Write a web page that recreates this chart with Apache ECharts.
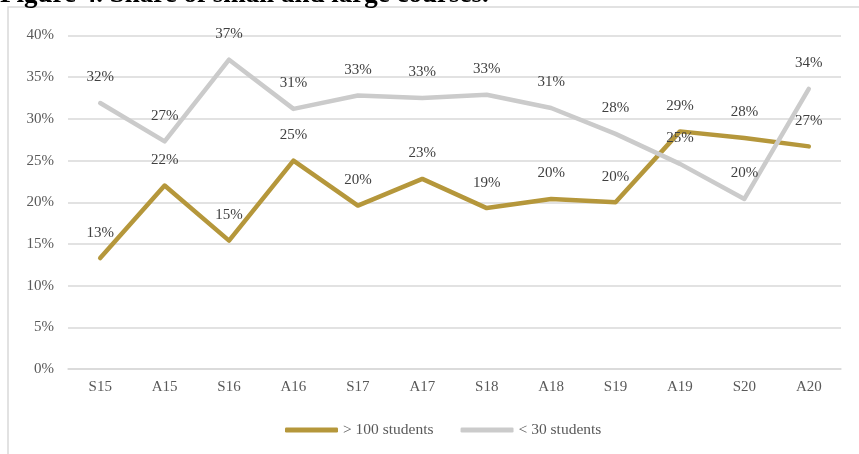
<!DOCTYPE html>
<html>
<head>
<meta charset="utf-8">
<script src="https://cdn.jsdelivr.net/npm/echarts@6/dist/echarts.min.js"></script>
<style>
  html, body { margin: 0; padding: 0; background: #fff; }
  #chart { width: 859px; height: 454px; }
</style>
</head>
<body>
<div id="chart"></div>
<script>
// terms
const terms = ["S15", "A15", "S16", "A16", "S17", "A17", "S18", "A18", "S19", "A19", "S20", "A20"];
// share of courses, percent
const largeCourses = [13.3, 22.0, 15.4, 25.0, 19.6, 22.8, 19.3, 20.4, 20.0, 28.5, 27.7, 26.7];
const smallCourses = [31.9, 27.3, 37.1, 31.2, 32.8, 32.5, 32.9, 31.3, 28.2, 24.6, 20.4, 33.6];
const seriesNames = ["> 100 students", "< 30 students"];

const serif = "Liberation Serif";

function lineSeries(name, data, color) {
  return {
    name: name,
    type: "line",
    data: data,
    showSymbol: true,
    symbol: "circle",
    symbolSize: 0,
    lineStyle: { width: 4.5, color: color, cap: "round", join: "round" },
    itemStyle: { color: color },
    label: {
      show: true,
      position: "top",
      distance: 18,
      color: "#404040",
      fontFamily: serif,
      fontSize: 15,
      formatter: (p) => Math.round(p.value) + "%",
    },
    labelLayout: { hideOverlap: false },
    emphasis: { disabled: true },
  };
}

const option = {
  animation: false,
  backgroundColor: "#fff",
  graphic: [
    {
      type: "rect",
      shape: { x: 8, y: 7, width: 900, height: 500 },
      style: { fill: "none", stroke: "#d9d9d9", lineWidth: 1.5 },
      silent: true,
    },
    {
      type: "text",
      x: 0,
      y: -5,
      style: {
        text: "Figure 4. Share of small and large courses.",
        font: "bold 27px Liberation Serif",
        fill: "#000",
        verticalAlign: "middle",
      },
      silent: true,
    },
  ],
  grid: { left: 68, right: 18, top: 35.5, bottom: 85 },
  legend: {
    left: 280,
    top: 417,
    itemWidth: 53,
    itemHeight: 5,
    itemGap: 27,
    icon: "roundRect",
    textStyle: { color: "#595959", fontFamily: serif, fontSize: 15.5 },
    data: seriesNames,
  },
  xAxis: {
    type: "category",
    data: terms,
    boundaryGap: true,
    axisLine: { lineStyle: { color: "#d9d9d9", width: 1.5 } },
    axisTick: { show: false },
    axisLabel: { color: "#595959", fontFamily: serif, fontSize: 15, margin: 11 },
  },
  yAxis: {
    type: "value",
    min: 0,
    max: 40,
    interval: 5,
    axisLine: { show: false },
    axisTick: { show: false },
    axisLabel: { color: "#595959", fontFamily: serif, fontSize: 15, margin: 14, formatter: "{value}%" },
    splitLine: { lineStyle: { color: "#d9d9d9", width: 1.5 } },
  },
  series: [
    lineSeries(seriesNames[0], largeCourses, "#b5973b"),
    lineSeries(seriesNames[1], smallCourses, "#cbcbcb"),
  ],
};

const chart = echarts.init(document.getElementById("chart"), null, { renderer: "canvas" });
chart.setOption(option);
</script>
</body>
</html>
